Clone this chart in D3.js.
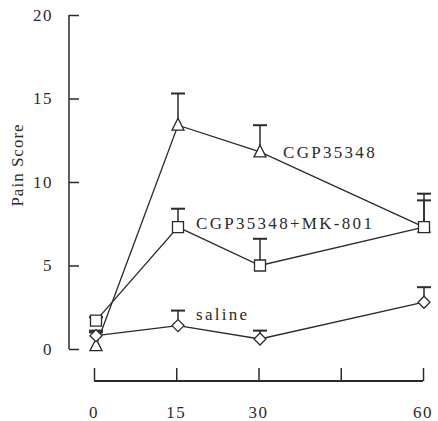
<!DOCTYPE html>
<html><head><meta charset="utf-8">
<script src="https://cdn.jsdelivr.net/npm/d3@7"></script>
<style>body{margin:0;background:#fff}svg{display:block}text{font-family:"Liberation Serif","DejaVu Serif",serif}</style>
</head><body>
<script>
const times = [0, 15, 30, 60];
const xTicks = [0, 15, 30, 45, 60];
const xTickLabels = ["0", "15", "30", "", "60"];
const yTicks = [0, 5, 10, 15, 20];
const seriesNames = ["CGP35348", "CGP35348+MK-801", "saline"];
const cgpMean = [0.2, 13.4, 11.8, 7.3];
const cgpErr  = [0.8, 1.9, 1.6, 2.0];
const mkMean  = [1.7, 7.3, 5.0, 7.3];
const mkErr   = [0.2, 1.1, 1.6, 1.6];
const salMean = [0.8, 1.4, 0.6, 2.8];
const salErr  = [0.3, 0.9, 0.5, 0.9];

const W = 438, H = 421;
const svg = d3.select("body").append("svg").attr("width", W).attr("height", H);
const x = d3.scaleLinear().domain([0, 60]).range([96, 424]);
const y = d3.scaleLinear().domain([0, 20]).range([349, 15]);
const ink = "#2a2a2a";

// y axis (ticks pointing inward)
const yAx = svg.append("g").attr("transform", "translate(69,0)")
  .call(d3.axisRight(y).tickValues(yTicks).tickSize(10).tickFormat(""));
yAx.select(".domain").remove();
yAx.selectAll("line").attr("stroke", ink).attr("stroke-width", 1.5);
svg.append("line").attr("x1", 69).attr("x2", 69).attr("y1", y(20)).attr("y2", y(0))
  .attr("stroke", ink).attr("stroke-width", 1.5);
svg.append("g").selectAll("text").data(yTicks).join("text")
  .attr("x", 53).attr("y", d => y(d)).attr("dy", "0.35em").attr("text-anchor", "end")
  .attr("font-size", 17).attr("fill", ink).attr("letter-spacing", 1.5)
  .text(d => d);

svg.append("text").attr("transform", "translate(23,165) rotate(-90)")
  .attr("text-anchor", "middle").attr("font-size", 17).attr("fill", ink).attr("letter-spacing", 1)
  .text("Pain Score");

// x axis (detached, ticks up)
const xs = d3.scaleLinear().domain([0, 60]).range([94, 423]);
const xAx = svg.append("g").attr("transform", "translate(0,381)")
  .call(d3.axisTop(xs).tickValues(xTicks).tickSize(13).tickFormat(""));
xAx.select(".domain").remove();
xAx.selectAll("line").attr("stroke", ink).attr("stroke-width", 1.5);
svg.append("line").attr("x1", xs(0)).attr("x2", xs(60)).attr("y1", 381).attr("y2", 381)
  .attr("stroke", ink).attr("stroke-width", 2);
svg.append("g").selectAll("text").data(xTicks).join("text")
  .attr("x", d => xs(d)).attr("y", 412).attr("dy", "0.35em").attr("text-anchor", "middle")
  .attr("font-size", 17).attr("fill", ink).attr("letter-spacing", 1.5)
  .text((d, i) => xTickLabels[i]);

const series = [
  {name: seriesNames[0], mean: cgpMean, err: cgpErr, shape: "tri"},
  {name: seriesNames[1], mean: mkMean, err: mkErr, shape: "sq"},
  {name: seriesNames[2], mean: salMean, err: salErr, shape: "dia"}
];
const line = d3.line().x((d, i) => x(times[i])).y(d => y(d));

series.forEach(s => {
  const g = svg.append("g");
  g.append("path").attr("d", line(s.mean)).attr("fill", "none").attr("stroke", ink).attr("stroke-width", 1.3);
  s.mean.forEach((m, i) => {
    const cx = x(times[i]), top = y(m + s.err[i]);
    g.append("line").attr("x1", cx).attr("x2", cx).attr("y1", y(m)).attr("y2", top).attr("stroke", ink).attr("stroke-width", 1.5);
    g.append("line").attr("x1", cx - 7).attr("x2", cx + 7).attr("y1", top).attr("y2", top).attr("stroke", ink).attr("stroke-width", 2);
  });
});
series.forEach(s => {
  const g = svg.append("g");
  s.mean.forEach((m, i) => {
    const cx = x(times[i]), cy = y(m);
    let p;
    if (s.shape === "tri") p = `M${cx},${cy - 7}L${cx + 6},${cy + 5}L${cx - 6},${cy + 5}Z`;
    else if (s.shape === "sq") p = `M${cx - 5.5},${cy - 5.5}h11v11h-11Z`;
    else p = `M${cx},${cy - 6}L${cx + 6},${cy}L${cx},${cy + 6}L${cx - 6},${cy}Z`;
    g.append("path").attr("d", p).attr("fill", "#fff").attr("stroke", ink).attr("stroke-width", 1.3);
  });
});

// series labels
const labPos = [[283, 158], [196, 229], [196, 320]];
svg.append("g").selectAll("text").data(seriesNames).join("text")
  .attr("x", (d, i) => labPos[i][0]).attr("y", (d, i) => labPos[i][1])
  .attr("font-size", 17).attr("fill", ink).attr("letter-spacing", 2.3)
  .text(d => d);
</script>
</body></html>
